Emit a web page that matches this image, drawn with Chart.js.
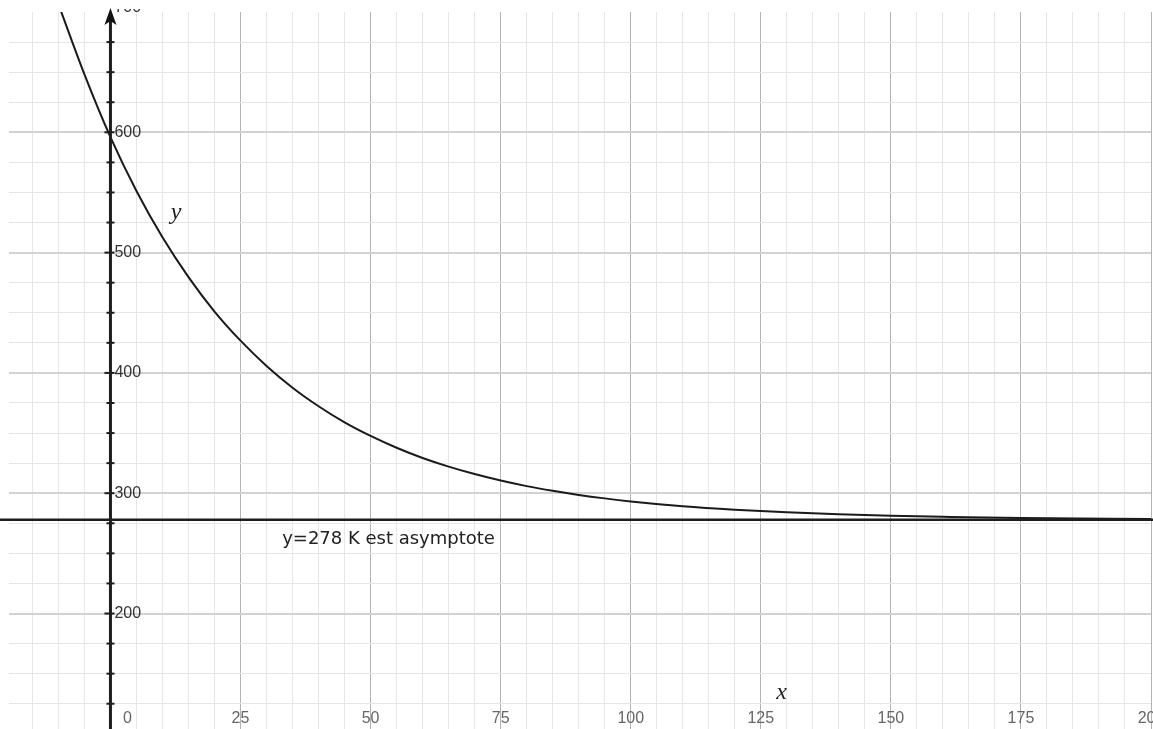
<!DOCTYPE html>
<html>
<head>
<meta charset="utf-8">
<title>Refroidissement</title>
<script src="https://cdn.jsdelivr.net/npm/chart.js@4"></script>
<style>
  html, body { margin: 0; padding: 0; background: #fff; }
  canvas { display: block; }
</style>
</head>
<body>
<canvas id="coolingChart" width="1153" height="729"></canvas>
<script>
// values
const curveX = [-10, -5, 0, 5, 10, 15, 20, 25, 30, 35, 40, 45, 50, 55, 60, 65, 70, 75, 80, 85, 90, 95, 100, 110, 120, 130, 140, 150, 160, 175, 200];
const curveY = [706.5, 648.2, 596, 551.2, 512.7, 479.6, 451.0, 426.8, 405.8, 387.7, 372.3, 358.9, 347.6, 337.8, 329.3, 322.1, 315.9, 310.5, 305.9, 302.0, 298.6, 295.7, 293.2, 289.2, 286.3, 284.1, 282.5, 281.3, 280.4, 279.3, 278.5];
const asymptote = 278;
const xTickLabels = [0, 25, 50, 75, 100, 125, 150, 175, 200];
const yTickLabels = [200, 300, 400, 500, 600, 700];
const xLimits = [-19.5, 200];
const yLimits = [104, 700];

const axisPlugin = {
  id: "axisPlugin",
  afterDatasetsDraw(chart) {
    const { ctx, scales: { x, y } } = chart;
    const x0 = x.getPixelForValue(0);
    ctx.save();

    // vertical axis with arrow
    ctx.strokeStyle = "#1e1e1e";
    ctx.lineWidth = 3;
    ctx.beginPath();
    ctx.moveTo(x0, chart.height);
    ctx.lineTo(x0, 20);
    ctx.stroke();
    ctx.fillStyle = "#111";
    ctx.beginPath();
    ctx.moveTo(x0, 8);
    ctx.lineTo(x0 + 6, 25);
    ctx.lineTo(x0, 21);
    ctx.lineTo(x0 - 6, 25);
    ctx.closePath();
    ctx.fill();

    // small tick marks every 25
    ctx.lineWidth = 2;
    y.ticks.forEach(t => {
      const py = y.getPixelForValue(t.value);
      if (py < 28) return;
      const left = t.value % 100 === 0 ? 6 : 4;
      ctx.beginPath();
      ctx.moveTo(x0 - left, py);
      ctx.lineTo(x0 + 4, py);
      ctx.stroke();
    });

    // y labels
    ctx.save();
    ctx.beginPath();
    ctx.rect(0, 9, chart.width, chart.height);
    ctx.clip();
    ctx.font = "16px 'Liberation Sans', Arial, sans-serif";
    ctx.fillStyle = "#333";
    ctx.textAlign = "left";
    ctx.textBaseline = "middle";
    yTickLabels.forEach(v => {
      const py = y.getPixelForValue(v) + (v === 700 ? -4 : 0);
      ctx.fillText(String(v), x0 + 4, py);
    });
    ctx.restore();

    // x labels
    ctx.font = "16px 'Liberation Sans', Arial, sans-serif";
    ctx.fillStyle = "#666";
    ctx.textAlign = "center";
    ctx.textBaseline = "alphabetic";
    xTickLabels.forEach(v => {
      const px = x.getPixelForValue(v) + (v === 0 ? 17 : 0);
      ctx.fillText(String(v), px, chart.height - 6);
    });

    // axis names and note
    ctx.fillStyle = "#222";
    ctx.font = "italic 24px 'Liberation Serif', 'Times New Roman', serif";
    ctx.textBaseline = "middle";
    ctx.fillText("y", x.getPixelForValue(12.6), y.getPixelForValue(533));
    ctx.fillText("x", x.getPixelForValue(129), y.getPixelForValue(134));

    ctx.font = "18px 'DejaVu Sans', sans-serif";
    ctx.textAlign = "left";
    ctx.textBaseline = "alphabetic";
    ctx.fillText("y=278 K est asymptote", x.getPixelForValue(33), y.getPixelForValue(258));

    ctx.restore();
  }
};

const ctx = document.getElementById("coolingChart").getContext("2d");

new Chart(ctx, {
  type: "scatter",
  data: {
    datasets: [
      {
        label: "asymptote",
        data: [{ x: xLimits[0] - 2, y: asymptote }, { x: xLimits[1] + 1, y: asymptote }],
        showLine: true,
        borderColor: "#1e1e1e",
        borderWidth: 2.5,
        pointRadius: 0,
        clip: { left: 10, right: 3, top: 0, bottom: 0 }
      },
      {
        label: "y",
        data: curveX.map((v, i) => ({ x: v, y: curveY[i] })),
        showLine: true,
        cubicInterpolationMode: "monotone",
        borderColor: "#1a1a1a",
        borderWidth: 2,
        pointRadius: 0
      }
    ]
  },
  options: {
    responsive: false,
    animation: false,
    layout: { padding: { left: 9, right: 2, top: 12, bottom: 0 } },
    plugins: {
      legend: { display: false },
      tooltip: { enabled: false }
    },
    scales: {
      x: {
        type: "linear",
        min: xLimits[0],
        max: xLimits[1],
        ticks: { display: false, stepSize: 5, maxTicksLimit: 100, includeBounds: false },
        border: { display: false },
        grid: {
          drawTicks: false,
          color: c => (c.tick.value % 25 === 0 ? "#b4b4b4" : "#e6e6e6"),
          lineWidth: 1
        }
      },
      y: {
        type: "linear",
        min: yLimits[0],
        max: yLimits[1],
        ticks: { display: false, stepSize: 25, maxTicksLimit: 100, includeBounds: false },
        border: { display: false },
        grid: {
          drawTicks: false,
          color: c => (c.tick.value >= yLimits[1] ? "rgba(0,0,0,0)" : c.tick.value % 100 === 0 ? "#d2d2d2" : "#e6e6e6"),
          lineWidth: c => (c.tick.value % 100 === 0 ? 2 : 1)
        }
      }
    }
  },
  plugins: [axisPlugin]
});
</script>
</body>
</html>
